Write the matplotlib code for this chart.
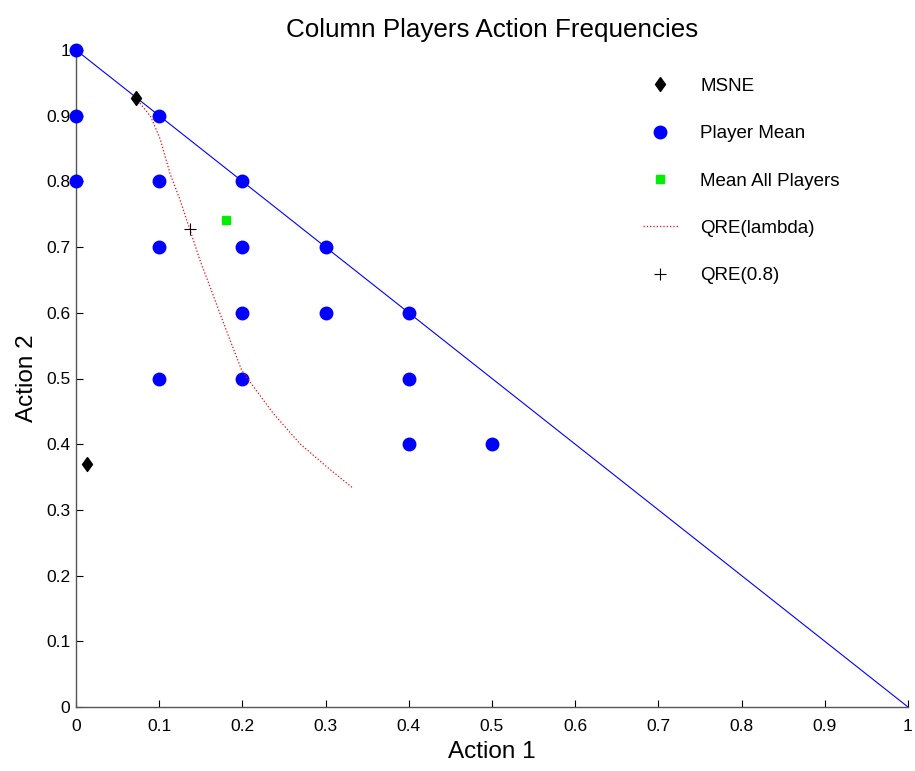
import matplotlib
matplotlib.use("Agg")
import matplotlib.pyplot as plt
from matplotlib.lines import Line2D

plt.rcParams['font.family'] = ['Liberation Sans', 'DejaVu Sans']

player_x = [0, 0, 0, 0.1, 0.1, 0.1, 0.1, 0.2, 0.2, 0.2, 0.2, 0.3, 0.3, 0.4, 0.4, 0.4, 0.5]
player_y = [1.0, 0.9, 0.8, 0.9, 0.8, 0.7, 0.5, 0.8, 0.7, 0.6, 0.5, 0.7, 0.6, 0.6, 0.5, 0.4, 0.4]

msne_x = [0.072, 0.013]
msne_y = [0.927, 0.370]

mean_all_x = [0.180]
mean_all_y = [0.741]

qre_x = [0.072, 0.090, 0.101, 0.113, 0.125, 0.137, 0.149, 0.161, 0.173, 0.185,
         0.199, 0.213, 0.237, 0.269, 0.301, 0.333]
qre_y = [0.927, 0.898, 0.865, 0.812, 0.772, 0.726, 0.680, 0.640, 0.599, 0.559,
         0.513, 0.488, 0.447, 0.401, 0.366, 0.333]

qre08_x = [0.137]
qre08_y = [0.728]

simplex_x = [0, 1]
simplex_y = [1, 0]

ticks = [0, 0.1, 0.2, 0.3, 0.4, 0.5, 0.6, 0.7, 0.8, 0.9, 1]
tick_labels = ['0', '0.1', '0.2', '0.3', '0.4', '0.5', '0.6', '0.7', '0.8', '0.9', '1']

diamond = [(0, 1), (0.72, 0), (0, -1), (-0.72, 0), (0, 1)]

fig = plt.figure(figsize=(9.15, 7.71), dpi=100)
ax = fig.add_axes([76/915, 64/771, 832/915, 657/771])

ax.plot(simplex_x, simplex_y, color='blue', lw=0.8, zorder=1, clip_on=False)
ax.plot(player_x, player_y, 'o', color='blue', ms=9, mec='blue', zorder=3, clip_on=False)
ax.plot(qre_x, qre_y, ':', color='red', lw=0.9, zorder=4)
ax.plot(msne_x, msne_y, ls='none', marker=diamond, color='black', ms=10, zorder=5, clip_on=False)
ax.plot(mean_all_x, mean_all_y, 's', color='#00ee00', ms=6, zorder=5)
ax.plot(qre08_x, qre08_y, '+', color='black', ms=9, mew=0.8, zorder=6)

ax.set_xlim(0, 1)
ax.set_ylim(0, 1)
ax.set_xticks(ticks)
ax.set_xticklabels(tick_labels)
ax.set_yticks(ticks)
ax.set_yticklabels(tick_labels)
ax.tick_params(direction='in', labelsize=12.5, length=5, width=0.8)
ax.tick_params(axis='x', pad=8.5)
ax.tick_params(axis='y', pad=4)
ax.spines['top'].set_visible(False)
ax.spines['right'].set_visible(False)
for s in ['left', 'bottom']:
    ax.spines[s].set_linewidth(1.0)
    ax.spines[s].set_color('#555555')

ax.set_title('Column Players Action Frequencies', fontsize=18.7, pad=9)
ax.set_xlabel('Action 1', fontsize=17.5, labelpad=5)
ax.set_ylabel('Action 2', fontsize=17.5, labelpad=6)

handles = [
    Line2D([], [], ls='none', marker=diamond, color='black', ms=10),
    Line2D([], [], ls='none', marker='o', color='blue', ms=9),
    Line2D([], [], ls='none', marker='s', color='#00ee00', ms=6),
    Line2D([], [], ls=':', color='red', lw=0.9),
    Line2D([], [], ls='none', marker='+', color='black', ms=9, mew=0.8),
]
labels = ['MSNE', 'Player Mean', 'Mean All Players', 'QRE(lambda)', 'QRE(0.8)']
ax.legend(handles, labels, loc='upper left', bbox_to_anchor=(0.672, 0.969),
          frameon=False, fontsize=13.5, labelspacing=1.61, handlelength=1.87,
          handletextpad=1.2, borderaxespad=0)

fig.savefig('out.png', dpi=100)
